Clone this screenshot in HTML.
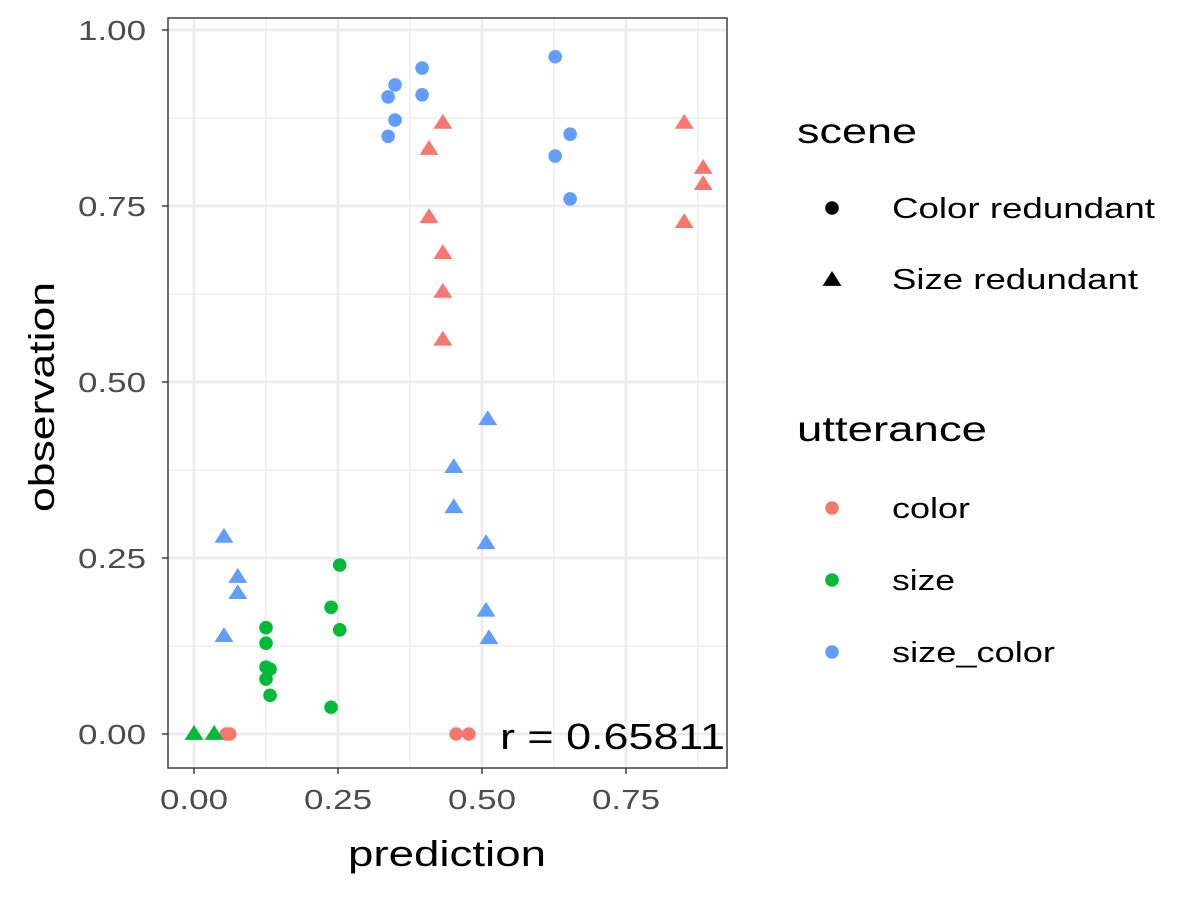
<!DOCTYPE html>
<html><head><meta charset="utf-8"><style>
body{margin:0;background:#fff}
svg{display:block;font-family:"Liberation Sans",sans-serif}
</style></head><body>
<svg id="chart" width="1200" height="900"></svg>
<script>
const xTicks=[0,0.25,0.5,0.75];
const xTickLabels=["0.00","0.25","0.50","0.75"];
const yTicks=[0,0.25,0.5,0.75,1];
const yTickLabels=["0.00","0.25","0.50","0.75","1.00"];
const blueCircX=[0.337,0.349,0.349,0.337,0.396,0.396,0.627,0.653,0.627,0.653];
const blueCircY=[0.905,0.922,0.872,0.849,0.946,0.908,0.962,0.852,0.821,0.760];
const redTriX=[0.432,0.408,0.408,0.432,0.432,0.432,0.851,0.884,0.884,0.851];
const redTriY=[0.868,0.831,0.734,0.683,0.628,0.560,0.868,0.804,0.781,0.727];
const redCircX=[0.056,0.062,0.455,0.477];
const redCircY=[0,0,0,0];
const blueTriX=[0.052,0.076,0.076,0.052,0.451,0.451,0.510,0.507,0.507,0.512];
const blueTriY=[0.280,0.223,0.200,0.139,0.379,0.322,0.447,0.271,0.175,0.136];
const greenCircX=[0.253,0.238,0.253,0.238,0.125,0.125,0.125,0.132,0.125,0.132];
const greenCircY=[0.240,0.180,0.148,0.038,0.151,0.129,0.095,0.092,0.078,0.055];
const greenTriX=[0,0.035];
const greenTriY=[0,0];

const NS="http://www.w3.org/2000/svg";
const svg=document.getElementById('chart');
const L=168,R=727,T=18,B=768;
const X=v=>194+v*576, Y=v=>734-v*704;
function el(t,a,p){const e=document.createElementNS(NS,t);for(const k in a)e.setAttribute(k,a[k]);(p||svg).appendChild(e);return e;}
function txt(a,len,p){a.textLength=len;a.lengthAdjust='spacingAndGlyphs';return el('text',a,p);}
const grid=el('g',{});


for(let i=0;i<xTicks.length;i++){const m=xTicks[i]+0.125;
  el('line',{x1:X(m),x2:X(m),y1:T,y2:B,stroke:'#ebebeb','stroke-width':1.3},grid);}
for(let i=0;i<yTicks.length-1;i++){const m=yTicks[i]+0.125;
  el('line',{x1:L,x2:R,y1:Y(m),y2:Y(m),stroke:'#ebebeb','stroke-width':1.3},grid);}
xTicks.forEach(v=>el('line',{x1:X(v),x2:X(v),y1:T,y2:B,stroke:'#ebebeb','stroke-width':2.7},grid));
yTicks.forEach(v=>el('line',{x1:L,x2:R,y1:Y(v),y2:Y(v),stroke:'#ebebeb','stroke-width':2.7},grid));
const frame=el('rect',{x:L,y:T,width:R-L,height:B-T,fill:'none',stroke:'#333','stroke-width':1.4});


xTicks.forEach((v,i)=>{el('line',{x1:X(v),x2:X(v),y1:B,y2:B+6,stroke:'#333','stroke-width':1.4});
  const t=txt({x:X(v),y:B+41,'text-anchor':'middle','font-size':28,fill:'#4d4d4d'},68);t.textContent=xTickLabels[i];
  
  });
yTicks.forEach((v,i)=>{el('line',{x1:L-6,x2:L,y1:Y(v),y2:Y(v),stroke:'#333','stroke-width':1.4});
  const t=txt({x:L-22,y:Y(v)+10,'text-anchor':'end','font-size':28,fill:'#4d4d4d'},68);t.textContent=yTickLabels[i];
  
  });
let t=txt({x:447,y:866,'text-anchor':'middle','font-size':36},198);t.textContent='prediction';


t=txt({x:54,y:397,'text-anchor':'middle','font-size':36,transform:'rotate(-90 54 397)'},230);t.textContent='observation';


function circ(cx,cy,c,p){return el('circle',{cx:cx,cy:cy,r:6.8,fill:c},p);}
function tri(cx,cy,c,p){const s=9;return el('polygon',{points:`${cx},${cy-s} ${cx-s*1.05},${cy+s*0.65} ${cx+s*1.05},${cy+s*0.65}`,fill:c},p);}
const RED='#F8766D',GRN='#00BA38',BLU='#619CFF';
function series(xs,ys,c,shape,name){const g=el('g',{});
  
  
  xs.forEach((v,i)=>{const m=shape==='c'?circ(X(v),Y(ys[i]),c,g):tri(X(v),Y(ys[i]),c,g);
    
    });}
series(blueCircX,blueCircY,BLU,'c','size-color-color-redundant');
series(redTriX,redTriY,RED,'t','color-size-redundant');
series(redCircX,redCircY,RED,'c','color-color-redundant');
series(blueTriX,blueTriY,BLU,'t','size-color-size-redundant');
series(greenCircX,greenCircY,GRN,'c','size-color-redundant');
series(greenTriX,greenTriY,GRN,'t','size-size-redundant');
t=txt({x:725,y:749,'text-anchor':'end','font-size':36},225);t.textContent='r = 0.65811';


const lg=el('g',{});


t=txt({x:797,y:143,'font-size':35},120,lg);t.textContent='scene';
circ(832,208,'#000',lg);let s=txt({x:892,y:218,'font-size':29},263,lg);s.textContent='Color redundant';


tri(832,280,'#000',lg);s=txt({x:892,y:289,'font-size':29},246,lg);s.textContent='Size redundant';


t=txt({x:797,y:441,'font-size':35},190,lg);t.textContent='utterance';
[['color',RED,508,78],['size',GRN,580,63],['size_color',BLU,652,163]].forEach(([n,c,y,w])=>{circ(832,y,c,lg);
  const e=txt({x:892,y:y+10,'font-size':29},w,lg);e.textContent=n;
  
  });
</script>
</body></html>
